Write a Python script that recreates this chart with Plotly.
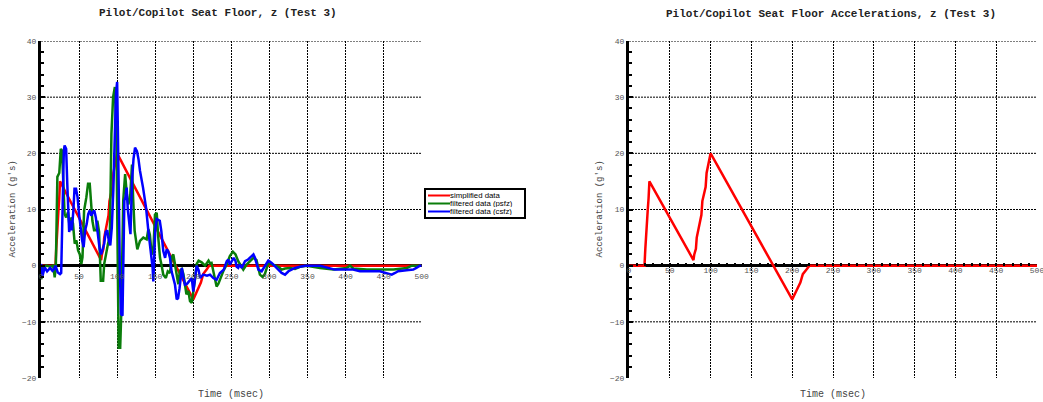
import plotly.graph_objects as go

# ---------------- data ----------------
red_t = [0, 19, 20, 21, 22, 23, 24, 25,
         30, 35, 40, 45, 50, 55, 60, 65, 70, 75,
         79, 80, 81, 82, 83,
         86, 88.7, 89.9, 93.9, 95.1, 98, 100,
         105, 110, 115, 120, 125, 130, 135, 140, 145, 150,
         155, 160, 165, 170, 175, 180, 185, 190, 195, 200,
         205, 210, 213, 215, 218, 221, 500]
red_v = [0, 0, 3, 6, 8.5, 10, 12, 15,
         13.7, 12.4, 11.1, 9.8, 8.5, 7.2, 5.9, 4.6, 3.3, 2.0,
         1.0, 2.0, 2.5, 3, 5,
         7, 9, 11.5, 14, 16.5, 18.5, 20,
         18.7, 17.4, 16.1, 14.8, 13.5, 12.2, 10.9, 9.6, 8.3, 7.0,
         5.7, 4.4, 3.1, 1.8, 0.5, -0.8, -2.1, -3.4, -4.7, -6,
         -4.5, -3, -1.5, -1.2, -0.6, 0, 0]

green_t = [0, 1, 3, 7, 12, 16, 18, 19.5, 21.5, 24,
           26, 27.5, 29, 31, 33, 35.5, 37.7, 40, 42, 44.3,
           46.5, 48.7, 51, 53, 54.5, 56.6, 59.6, 61.8, 64, 65.4,
           67.5, 69.7, 72.8, 74, 76.3, 78.5, 81.6, 83, 86, 88,
           90.4, 92.5, 94.7, 97, 99, 100.5, 102, 104, 105.5, 108,
           110.5, 112.5, 114.7, 117, 119.5, 121, 123, 126.5, 130, 134.4,
           138.8, 141, 143, 145.4, 147.5, 149.7, 152, 154, 156.3, 158.5,
           160.6, 164, 166.5, 169.4, 171.6, 173.8, 176, 178, 180.3, 182.5,
           185, 187, 189, 191, 193.5, 195.7, 198, 200, 202, 204.5,
           207, 211, 215.5, 220, 222, 224, 226.3, 228.5, 230.6, 233,
           235, 240, 244, 248, 252, 255.5, 259, 262, 265.7, 270,
           274, 279, 283, 287.5, 291, 294, 298.6, 303, 307.5, 312,
           316, 320.5, 327, 333.6, 340, 349, 366.5, 384, 401.4, 406,
           410, 428, 445, 463, 480.6, 487, 500]
green_v = [-2.4, -2.1, -0.3, 0, -0.2, 0, -2.1, 0, 15.8, 16.5,
           20.8, 20.5, 15.8, 9.2, 8.6, 9.5, 6.8, 8.6, 7.5, 3.9,
           4.5, 2.7, 2.0, 0.3, 1.5, 9.8, 12.2, 14.6, 14.6, 11,
           8, 6.3, 6.3, 8, 6, -2.7, -2.7, 0.3, 2.7, 3.9,
           5, 23.5, 30, 31.8, 23.5, 5, -14.6, -14.6, -8, 11.6,
           16.3, 13, 10.9, 12, 18, 12, 6.2, 2.9, 4.4, 5.0,
           4.7, 6.5, 5.5, 2.0, 2.5, 9.1, 9.4, 5, 1.4, 0,
           -1.6, -2.2, -1.0, -1.3, 1.4, 2.0, 0.3, -0.8, -3.3, -0.9,
           -0.6, -1.5, -3.3, -5.1, -4.5, -6.3, -6.6, -5, -2.7, 0.3,
           0.9, 0.6, 0, 0.9, 0.4, 0.5, -1.0, -2.5, -3.7, -3.2,
           -2.4, -0.8, 0.2, 1.7, 2.5, 2.0, 0.8, 0, -0.7, 0.2,
           0.8, 1.4, 1.0, -1.6, -2.0, -1.5, 0.5, 0.3, 0.1, -0.2,
           -0.7, -0.5, -0.4, -0.6, -0.2, 0, -0.4, -0.7, -0.4, 0,
           -0.5, -0.7, -0.7, -0.7, -0.4, 0, 0]

blue_t = [0, 2, 5, 8, 12, 15, 17, 19, 22, 25,
          26.5, 28, 30, 31, 33, 34.5, 36, 37, 39, 40.5,
          42.5, 44, 46, 48, 50, 52, 54, 56, 58, 60,
          62, 64, 66, 68, 70, 72, 73.5, 75, 77, 79,
          81, 83, 85, 87, 89, 91, 93, 95, 97, 98.5,
          100, 101, 102, 103.5, 105, 107, 108, 109.5, 111, 112.5,
          114, 116, 117.5, 119.5, 121.5, 123.5, 126, 128, 130, 134,
          138, 141, 143.5, 146.6, 147.5, 150, 152, 156, 158, 160.6,
          163, 165, 167, 169.4, 171.5, 173.8, 176, 178.2, 180, 182,
          183.5, 185, 187, 189, 192, 195.7, 198, 200, 202, 204.5,
          207, 209, 213, 218, 222, 226.3, 230.6, 235, 240, 244,
          246, 248, 253, 255.5, 257, 259, 261, 263.6, 268, 272,
          276.7, 279, 281, 283, 285.5, 289.8, 294, 298.6, 303, 307,
          311.7, 316, 320.5, 325, 329, 333.6, 340, 347, 366.5, 372,
          386, 410, 419, 445, 454, 460.6, 465, 469, 480, 488.9,
          493, 497.7, 500]
blue_v = [0.3, -1.8, -0.3, -1.0, -0.4, -0.9, -0.6, 0, -1.2, -1.5,
          -1.3, 11.6, 20.5, 21.4, 20.8, 14.6, 8.6, 6.0, 8, 6.3,
          9.8, 13.7, 13.7, 12.2, 9.2, 6.3, 4.5, 3.3, 6.3, 7.4,
          9.2, 9.8, 8.9, 9.5, 9.8, 8.6, 7.1, 5.4, 3.0, 2.0,
          3.0, 3.9, 6.0, 6.3, 4.5, 3.6, 6.8, 13.4, 23.5, 30.7,
          32.7, 26.5, 14.6, -0.3, -8.6, -8.9, 2.7, 11.6, 12.2, 13.9,
          10, 6.8, 5.6, 15, 19, 21, 20.4, 19, 16.9, 13.9,
          10.3, 6.2, 3.2, -0.4, -2.8, 6.2, 8.3, 8.0, 6.2, 2.6,
          1.4, 2.9, 2.6, 1.4, -1.0, -2.2, -3.4, -6.0, -5.8, -4.0,
          -1.6, -0.4, -2.0, -3.4, -3.2, -2.5, -2.2, -4.6, -2.2, 0,
          -0.8, -2.2, -1.6, -1.8, -1.6, -2.2, -2.5, -1.3, -0.7, 0.8,
          1.1, 0.2, 1.4, 0.8, -0.2, -0.4, 0.2, -0.4, 0.8, 1.1,
          1.7, 2.0, 1.4, 0.2, -0.7, -1.0, -0.1, 0.9, 0.5, 0,
          -0.7, -1.3, -1.6, -1.0, -0.7, -0.4, -0.2, 0, 0, -0.2,
          -0.7, -0.7, -1.0, -1.0, -1.3, -1.6, -1.3, -1.0, -0.8, -0.7,
          -0.4, 0, 0]

x_ticks = [0, 50, 100, 150, 200, 250, 300, 350, 400, 450, 500]
y_ticks = [-20, -10, 0, 10, 20, 30, 40]
y_grid = [-10, 10, 20, 30, 40]

title_left = "Pilot/Copilot Seat Floor, z (Test 3)"
title_right = "Pilot/Copilot Seat Floor Accelerations, z (Test 3)"
x_title = "Time (msec)"
y_title = "Acceleration (g's)"
names = ["simplified data", "filtered data (psfz)", "filtered data (csfz)"]
colors = ["#ff0000", "#0a7d0a", "#0000ff"]

# ---------------- layout constants ----------------
W, H = 1043, 402
Y_DOM = [1 - 378 / H, 1 - 41 / H]
X_DOM_L = [41 / W, 421.7 / W]
X_DOM_R = [629 / W, 1037 / W]
zero_pos = Y_DOM[0] + (Y_DOM[1] - Y_DOM[0]) / 3.0

MONO = "Liberation Mono, Courier New, monospace"
SANS = "Liberation Sans, Arial, sans-serif"
TICKFONT = dict(family=MONO, size=8, color="#555555")
LW = 2.5

fig = go.Figure()
series = [(red_t, red_v), (green_t, green_v), (blue_t, blue_v)]
for (tt, vv), nm, col in zip(series, names, colors):
    fig.add_trace(go.Scatter(x=tt, y=vv, mode="lines", name=nm, showlegend=False,
                             line=dict(color=col, width=LW), xaxis="x", yaxis="y"))
fig.add_trace(go.Scatter(x=red_t, y=red_v, mode="lines", name=names[0], showlegend=False,
                         line=dict(color=colors[0], width=LW), xaxis="x2", yaxis="y2"))


def xax(domain, minor, standoff):
    d = dict(domain=domain, range=[0, 500], anchor="free", automargin=False,
             position=zero_pos, tickvals=x_ticks, tickfont=TICKFONT,
             ticklabeloverflow="allow", ticklabelstandoff=standoff,
             showgrid=True, gridcolor="black", gridwidth=1, griddash="2px,1px",
             zeroline=False, showline=False, fixedrange=True)
    if minor:
        d.update(ticks="inside", ticklen=3, tickwidth=2, tickcolor="black",
                 minor=dict(dtick=10, ticks="inside", ticklen=3, tickwidth=2,
                            tickcolor="black", showgrid=False))
    else:
        d.update(ticks="")
    return d


def yax(anchor):
    return dict(domain=Y_DOM, range=[-20, 40], anchor=anchor, tickvals=y_ticks,
                automargin=False, tickfont=TICKFONT, showgrid=False,
                zeroline=True, zerolinecolor="black", zerolinewidth=3,
                showline=True, linecolor="black", linewidth=3,
                ticks="inside", ticklen=4, tickwidth=2, tickcolor="black",
                minor=dict(dtick=2, ticks="inside", ticklen=3, tickwidth=2,
                           tickcolor="black", showgrid=False),
                fixedrange=True)


shapes = []
for xr, yr in (("x", "y"), ("x2", "y2")):
    for g in y_grid:
        shapes.append(dict(type="line", xref=xr, yref=yr, x0=0, x1=500, y0=g, y1=g,
                           line=dict(color="black", width=1, dash="2px,1px"),
                           layer="below"))

# custom legend box (pixel positions converted to paper)
LEG_L, LEG_R, LEG_T, LEG_B = 425, 525, 189, 218
shapes.append(dict(type="rect", xref="paper", yref="paper",
                   x0=LEG_L / W, x1=LEG_R / W, y0=1 - LEG_B / H, y1=1 - LEG_T / H,
                   line=dict(color="black", width=2), fillcolor="white", layer="above"))

annotations = [
    dict(text="<b>" + title_left + "</b>", x=218 / W, y=1 - 13 / H, xref="paper", yref="paper",
         showarrow=False, font=dict(family=MONO, size=11, color="#222222"),
         xanchor="center", yanchor="middle"),
    dict(text="<b>" + title_right + "</b>", x=831 / W, y=1 - 14 / H, xref="paper", yref="paper",
         showarrow=False, font=dict(family=MONO, size=11, color="#222222"),
         xanchor="center", yanchor="middle"),
]
for dom, xc in ((X_DOM_L, 12), (X_DOM_R, 599)):
    annotations.append(dict(text=x_title, x=(dom[0] + dom[1]) / 2, y=1 - 394 / H,
                            xref="paper", yref="paper", showarrow=False,
                            font=dict(family=MONO, size=10, color="#444444"),
                            xanchor="center", yanchor="middle"))
    annotations.append(dict(text=y_title, x=xc / W, y=(Y_DOM[0] + Y_DOM[1]) / 2,
                            xref="paper", yref="paper", showarrow=False, textangle=-90,
                            font=dict(family=MONO, size=9, color="#444444"),
                            xanchor="center", yanchor="middle"))

for i, (nm, col) in enumerate(zip(names, colors)):
    yy = 1 - (195.5 + 8 * i) / H
    shapes.append(dict(type="line", xref="paper", yref="paper",
                       x0=428 / W, x1=450 / W, y0=yy, y1=yy,
                       line=dict(color=col, width=2), layer="above"))
    annotations.append(dict(text=nm, x=449 / W, y=yy, xref="paper", yref="paper",
                            showarrow=False, xanchor="left", yanchor="middle",
                            height=7, borderpad=0,
                            font=dict(family=SANS, size=7.8, color="black")))

fig.update_layout(
    width=W, height=H, margin=dict(l=0, r=0, t=0, b=0, autoexpand=False),
    paper_bgcolor="white", plot_bgcolor="white",
    xaxis=xax(X_DOM_L, False, 4),
    yaxis=yax("x"),
    xaxis2=xax(X_DOM_R, True, -2),
    yaxis2=yax("x2"),
    shapes=shapes,
    annotations=annotations,
    showlegend=False,
)

fig.write_html("out.html", config={"displayModeBar": False},
               post_script="document.body.style.margin='0px';document.body.style.overflow='hidden';")
